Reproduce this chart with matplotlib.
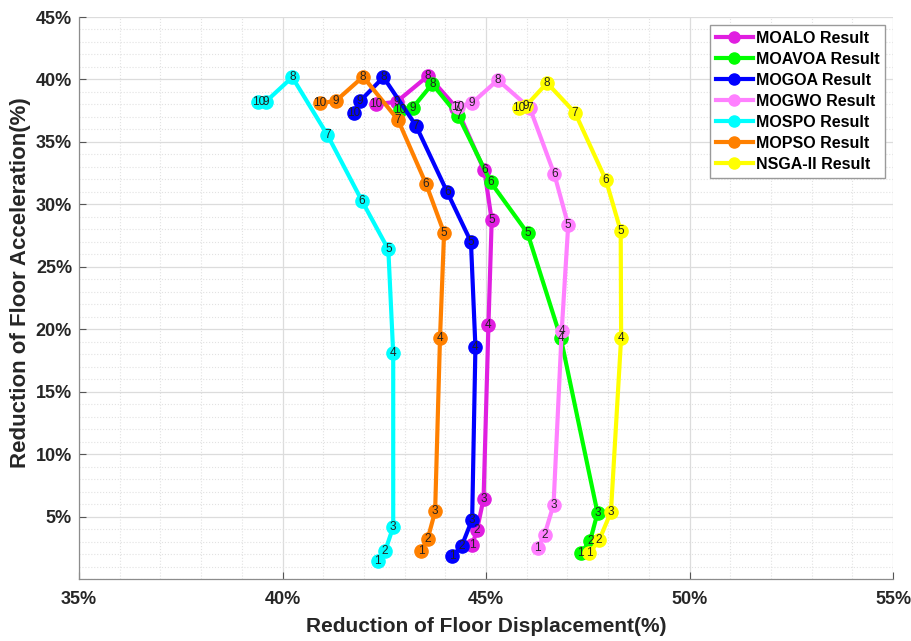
import matplotlib
matplotlib.use("Agg")
import matplotlib.pyplot as plt
from matplotlib.ticker import MultipleLocator, FuncFormatter

plt.rcParams['font.family'] = ['Liberation Sans', 'DejaVu Sans']

# Pareto fronts: reduction of floor displacement (x, %) vs floor acceleration (y, %)
# Points are listed for solution index 1..10
labels = [str(i) for i in range(1, 11)]

moalo_x = [44.66, 44.78, 44.94, 45.06, 45.14, 44.96, 44.27, 43.58, 42.81, 42.30]
moalo_y = [2.70, 3.96, 6.41, 20.33, 28.74, 32.71, 37.75, 40.30, 38.22, 38.01]

moavoa_x = [47.33, 47.56, 47.74, 46.84, 46.02, 45.12, 44.32, 43.68, 43.20, 42.89]
moavoa_y = [2.06, 3.08, 5.29, 19.26, 27.70, 31.75, 37.08, 39.64, 37.74, 37.56]

mogoa_x = [44.17, 44.40, 44.66, 44.74, 44.63, 44.05, 43.28, 42.48, 41.90, 41.76]
mogoa_y = [1.84, 2.62, 4.76, 18.57, 27.00, 30.96, 36.30, 40.18, 38.25, 37.34]

mogwo_x = [46.27, 46.44, 46.66, 46.86, 47.02, 46.68, 46.08, 45.29, 44.65, 44.30]
mogwo_y = [2.46, 3.56, 5.96, 19.85, 28.34, 32.40, 37.69, 39.96, 38.09, 37.82]

mospo_x = [42.34, 42.52, 42.72, 42.72, 42.60, 41.95, 41.10, 40.24, 39.59, 39.41]
mospo_y = [1.47, 2.22, 4.17, 18.06, 26.39, 30.29, 35.58, 40.18, 38.22, 38.17]

mopso_x = [43.40, 43.57, 43.75, 43.87, 43.97, 43.53, 42.84, 41.98, 41.31, 40.92]
mopso_y = [2.22, 3.24, 5.42, 19.31, 27.72, 31.61, 36.75, 40.22, 38.28, 38.09]

nsga2_x = [47.54, 47.78, 48.07, 48.32, 48.31, 47.95, 47.19, 46.50, 45.98, 45.81]
nsga2_y = [2.06, 3.10, 5.37, 19.31, 27.86, 31.91, 37.32, 39.72, 37.88, 37.74]

series = [
    ("MOALO Result", moalo_x, moalo_y, "#e01ee0"),
    ("MOAVOA Result", moavoa_x, moavoa_y, "#00ff00"),
    ("MOGOA Result", mogoa_x, mogoa_y, "#0000ff"),
    ("MOGWO Result", mogwo_x, mogwo_y, "#ff80ff"),
    ("MOSPO Result", mospo_x, mospo_y, "#00ffff"),
    ("MOPSO Result", mopso_x, mopso_y, "#ff8000"),
    ("NSGA-II Result", nsga2_x, nsga2_y, "#ffff00"),
]

fig = plt.figure(figsize=(9.11, 6.41), dpi=100)
ax = fig.add_axes([79 / 911, 1 - 579 / 641, (893 - 79) / 911, (579 - 17) / 641])

for name, xs, ys, col in series:
    ax.plot(xs, ys, '-o', color=col, lw=3, ms=9.5, mfc=col, mec=col, label=name, zorder=3)
    for lab, x, y in zip(labels, xs, ys):
        ax.text(x, y, lab, ha='center', va='center', fontsize=8.5, color='#222222', zorder=4)

ax.set_xlim(35, 55)
ax.set_ylim(0, 45)
ax.xaxis.set_major_locator(MultipleLocator(5))
ax.xaxis.set_minor_locator(MultipleLocator(1))
ax.set_yticks([5, 10, 15, 20, 25, 30, 35, 40, 45])
ax.yaxis.set_minor_locator(MultipleLocator(1))
pct = FuncFormatter(lambda v, p: f"{v:.0f}%")
ax.xaxis.set_major_formatter(pct)
ax.yaxis.set_major_formatter(pct)

ax.grid(which='major', color='#dcdcdc', lw=0.9, ls='-', zorder=0)
ax.grid(which='minor', color='#e2e2e2', lw=0.8, ls=':', zorder=0)
ax.set_axisbelow(True)

for s in ['top', 'right']:
    ax.spines[s].set_visible(False)
for s in ['left', 'bottom']:
    ax.spines[s].set_color('#8c8c8c')
    ax.spines[s].set_linewidth(0.9)

ax.tick_params(which='major', direction='in', length=5, color='#555555', labelsize=13)
ax.tick_params(axis='x', which='major', pad=9)
ax.tick_params(axis='y', which='major', pad=5)
ax.tick_params(which='minor', direction='in', length=0)
for t in ax.get_xticklabels() + ax.get_yticklabels():
    t.set_fontweight('bold')
    t.set_color('#262626')

ax.set_xlabel("Reduction of Floor Displacement(%)", fontsize=15, fontweight='bold', color='#262626', labelpad=6)
ax.set_ylabel("Reduction of Floor Acceleration(%)", fontsize=16, fontweight='bold', color='#262626')
ax.yaxis.set_label_coords(-0.059, 0.528)

leg = ax.legend(loc='upper right', fontsize=11.5, frameon=True, fancybox=False,
                edgecolor='#9a9a9a', framealpha=1, borderaxespad=0.5,
                handlelength=2.3, handletextpad=0.2, labelspacing=0.38, borderpad=0.35)
leg.get_frame().set_linewidth(1.0)
for t in leg.get_texts():
    t.set_fontweight('bold')
for h in leg.legend_handles:
    h.set_markersize(8)

fig.savefig("out.png", dpi=100)
